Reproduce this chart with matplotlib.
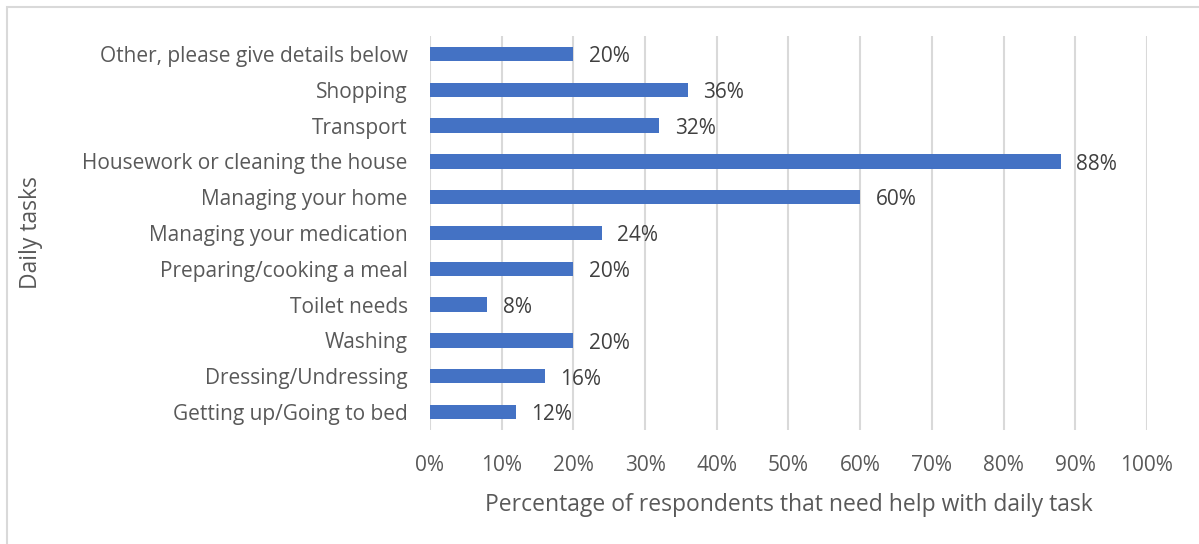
import matplotlib.pyplot as plt
from matplotlib.patches import Rectangle

# tasks listed bottom to top
tasks = ["Getting up/Going to bed", "Dressing/Undressing", "Washing", "Toilet needs",
         "Preparing/cooking a meal", "Managing your medication", "Managing your home",
         "Housework or cleaning the house", "Transport", "Shopping",
         "Other, please give details below"]
pct = [12, 16, 20, 8, 20, 24, 60, 88, 32, 36, 20]
xticks = [0, 10, 20, 30, 40, 50, 60, 70, 80, 90, 100]

plt.rcParams['font.family'] = ['Open Sans', 'DejaVu Sans']

fig = plt.figure(figsize=(11.99, 5.44), dpi=100)
ax = fig.add_axes([0.3586, 0.2096, 0.598, 0.7242])

ypos = list(range(len(tasks)))
ax.barh(ypos, pct, height=0.4, color="#4472C4", zorder=3)
for y, v in zip(ypos, pct):
    ax.annotate(f"{v}%", (v, y), xytext=(11, -2), textcoords="offset points",
                va="center", ha="left", fontsize=15, color="#404040")

ax.set_xlim(0, 100)
ax.set_ylim(-0.5, len(tasks) - 0.5)
ax.set_xticks(xticks)
ax.set_xticklabels([f"{t}%" for t in xticks], fontsize=15, color="#595959")
ax.set_yticks(ypos)
ax.set_yticklabels(tasks, fontsize=15, color="#595959")
ax.tick_params(length=0)
ax.tick_params(axis="x", pad=18)
ax.tick_params(axis="y", pad=16)
ax.grid(axis="x", color="#d9d9d9", linewidth=1.5, zorder=0)
for s in ax.spines.values():
    s.set_visible(False)

ax.set_xlabel("Percentage of respondents that need help with daily task",
              fontsize=16.5, color="#595959", labelpad=12)
ax.set_ylabel("Daily tasks", fontsize=16.5, color="#595959")
ax.yaxis.set_label_coords(-0.540, 0.5)

# light border round the chart area
fig.patches.append(Rectangle((7 / 1199, -0.1), 1.1, 1 - 7 / 544 + 0.1,
                             transform=fig.transFigure, fill=False,
                             edgecolor="#d9d9d9", linewidth=1.5))

fig.savefig("out.png", dpi=100)
